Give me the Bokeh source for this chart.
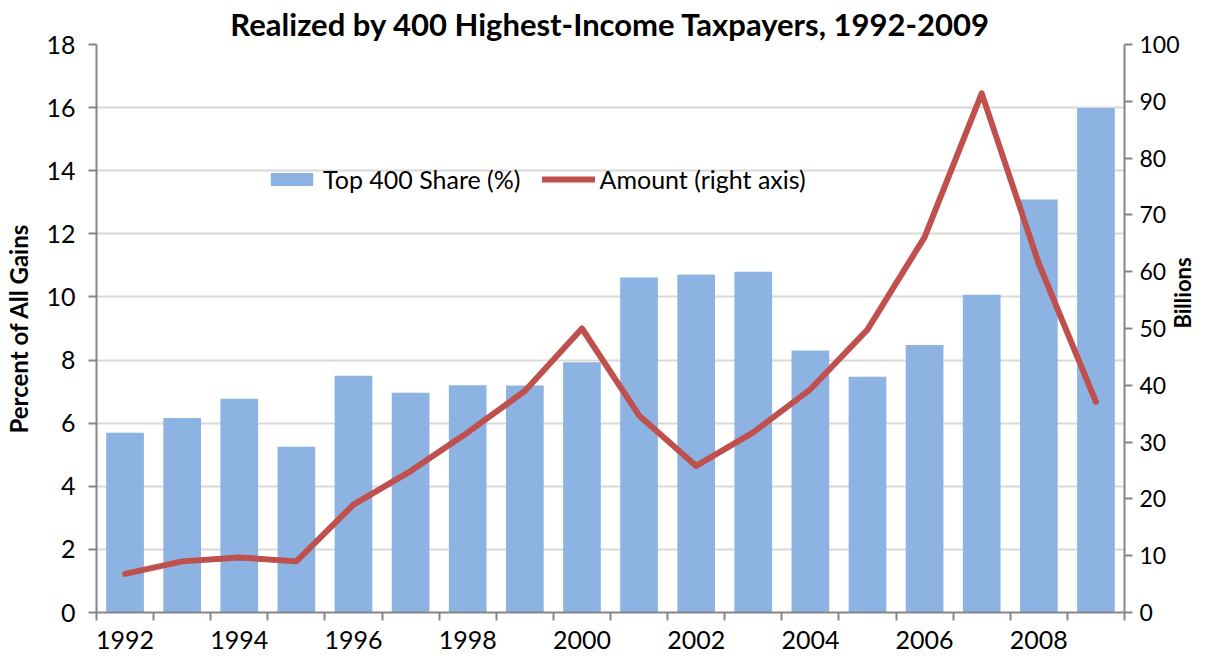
import math
from bokeh.plotting import figure
from bokeh.models import Range1d, LinearAxis, FixedTicker, Legend, LegendItem
from bokeh.embed import file_html
from bokeh.resources import INLINE

years = list(range(1992, 2010))
top400_share = [5.70, 6.16, 6.77, 5.25, 7.50, 6.96, 7.20, 7.19, 7.93, 10.62,
                10.71, 10.80, 8.30, 7.47, 8.48, 10.07, 13.09, 15.99]
amount_billions = [6.8, 9.0, 9.7, 9.0, 19.0, 24.9, 31.7, 39.0, 50.0, 34.7,
                   25.8, 31.7, 39.3, 49.8, 66.1, 91.4, 61.4, 37.1]
left_ticks = list(range(0, 19, 2))
right_ticks = list(range(0, 101, 10))
label_years = list(range(1992, 2009, 2))
title_text = "Realized by 400 Highest-Income Taxpayers, 1992-2009"

FONT = "Lato"
AXIS_COLOR = "#868686"
TICK_SIZE = "25px"

p = figure(width=1212, height=659, output_backend="svg", toolbar_location=None,
           x_range=Range1d(1991.5, 2009.5), y_range=Range1d(0, 18),
           min_border_left=96, min_border_right=79, min_border_top=44, min_border_bottom=47)
p.extra_y_ranges = {"right": Range1d(0, 100)}
p.outline_line_color = None
p.background_fill_color = "white"

p.title.text = title_text
p.title.align = "center"
p.title.text_font = FONT
p.title.text_font_style = "bold"
p.title.text_font_size = "31px"
p.title.text_color = "black"
p.title.standoff = 4

bars = p.vbar(x=years, top=top400_share, width=0.66, color="#8db3e2", line_color=None)
line = p.line(x=years, y=amount_billions, y_range_name="right", line_color="#c0504d",
              line_width=6, line_join="round", line_cap="round")

# x axis
xa = p.xaxis[0]
xa.ticker = FixedTicker(ticks=label_years, minor_ticks=[y - 0.5 for y in years] + [2009.5])
xa.major_tick_out = 0
xa.major_tick_in = 0
xa.minor_tick_out = 8
xa.minor_tick_in = 0
xa.minor_tick_line_color = AXIS_COLOR
xa.minor_tick_line_width = 2
xa.axis_line_color = AXIS_COLOR
xa.axis_line_width = 2
xa.major_label_text_font = FONT
xa.major_label_text_font_size = TICK_SIZE
xa.major_label_text_color = "black"
xa.major_label_standoff = 10

# left axis
ya = p.yaxis[0]
ya.ticker = FixedTicker(ticks=left_ticks)
ya.minor_tick_line_color = None
ya.major_tick_out = 8
ya.major_tick_in = 0
ya.major_tick_line_color = AXIS_COLOR
ya.major_tick_line_width = 2
ya.axis_line_color = AXIS_COLOR
ya.axis_line_width = 2
ya.major_label_text_font = FONT
ya.major_label_text_font_size = TICK_SIZE
ya.major_label_text_color = "black"
ya.major_label_standoff = 13
ya.axis_label = "Percent of All Gains"
ya.axis_label_text_font = FONT
ya.axis_label_text_font_style = "bold"
ya.axis_label_text_font_size = "24px"
ya.axis_label_text_color = "black"
ya.axis_label_standoff = 10

# right axis
ra = LinearAxis(y_range_name="right", ticker=FixedTicker(ticks=right_ticks))
ra.minor_tick_line_color = None
ra.major_tick_out = 8
ra.major_tick_in = 0
ra.major_tick_line_color = AXIS_COLOR
ra.major_tick_line_width = 2
ra.axis_line_color = AXIS_COLOR
ra.axis_line_width = 2
ra.major_label_text_font = FONT
ra.major_label_text_font_size = "23px"
ra.major_label_text_color = "black"
ra.major_label_standoff = 7
ra.axis_label = "Billions"
ra.axis_label_orientation = math.pi / 2
ra.axis_label_text_font = FONT
ra.axis_label_text_font_style = "bold"
ra.axis_label_text_font_size = "22px"
ra.axis_label_text_color = "black"
ra.axis_label_standoff = 0
p.add_layout(ra, "right")

p.xgrid.grid_line_color = None
p.ygrid.ticker = FixedTicker(ticks=left_ticks)
p.ygrid.grid_line_color = "#d9d9d9"
p.ygrid.grid_line_width = 2

legend = Legend(items=[LegendItem(label="Top 400 Share (%)", renderers=[bars]),
                       LegendItem(label="Amount (right axis)", renderers=[line])],
                location=(169, 418), orientation="horizontal",
                glyph_width=53, glyph_height=16, label_standoff=5, spacing=21,
                padding=0, margin=0, border_line_color=None, background_fill_alpha=0,
                label_text_font=FONT, label_text_font_size="25px", label_text_color="black")
p.add_layout(legend, "center")

open("out.html", "w").write(file_html(p, INLINE))
